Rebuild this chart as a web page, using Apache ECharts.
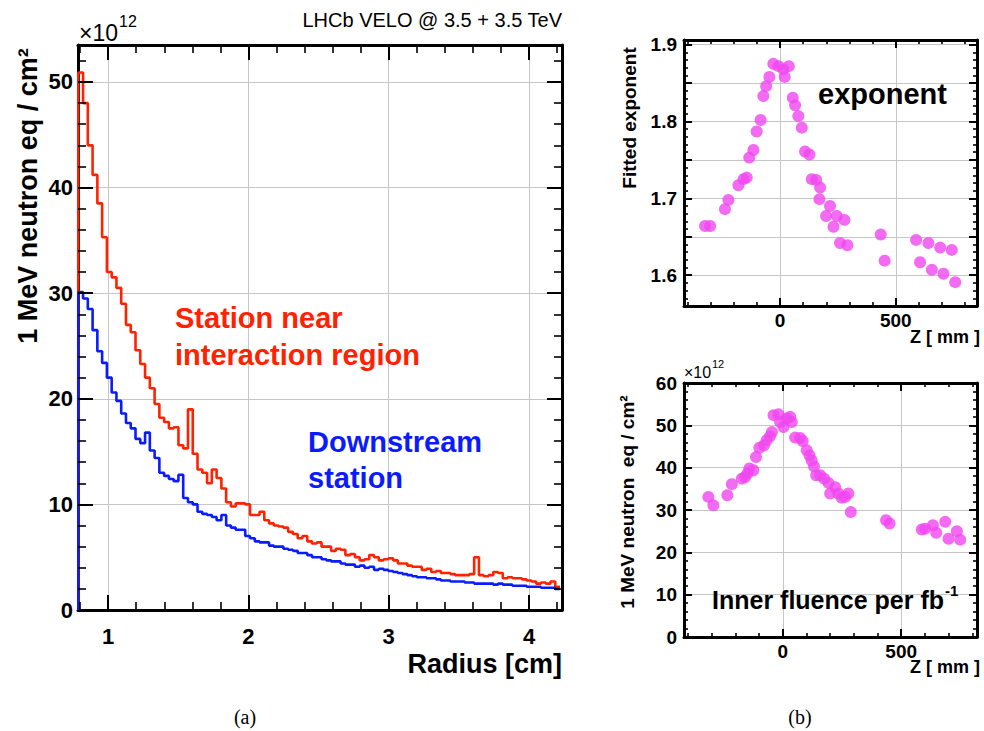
<!DOCTYPE html>
<html>
<head>
<meta charset="utf-8">
<script src="https://cdn.jsdelivr.net/npm/echarts@6/dist/echarts.min.js"></script>
<style>
html,body{margin:0;padding:0;background:#fff;}
#chart{width:984px;height:731px;}
</style>
</head>
<body>
<div id="chart"></div>
<script>
// ---------- DATA ----------
// (a) histograms: uniform radius bins
const radiusBinStart = 0.787;
const radiusBinWidth = 0.034;
const nearStationFluence = [
  50.9, 48, 44, 41.2, 38.5, 35.3, 32, 31.5, 30.5, 29,
  27, 26.3, 24.6, 23.3, 22, 21, 19.5, 18.2, 17.8, 17.2,
  17.3, 15.6, 15.3, 19, 14.8, 13.3, 13.0, 12.0, 13.3, 12.5,
  11.5, 10.2, 9.8, 10.1, 10.1, 10.0, 9.0, 9.0, 9.3, 8.5,
  8.2, 8.0, 7.9, 7.8, 7.4, 7.2, 6.8, 7.0, 6.5, 6.3,
  6.4, 6.0, 6.0, 5.6, 5.8, 5.7, 5.2, 5.3, 5.0, 4.7,
  4.8, 5.2, 5.0, 4.7, 4.8, 4.9, 4.7, 4.4, 4.4, 4.2,
  4.1, 4.1, 3.8, 3.9, 3.6, 3.7, 3.5, 3.5, 3.4, 3.3,
  3.3, 3.3, 3.4, 5.0, 3.3, 3.2, 3.3, 3.6, 3.5, 3.0,
  3.1, 3.0, 3.0, 2.9, 2.8, 2.7, 2.5, 2.6, 2.5, 2.7, 2.2
];
const downstreamFluence = [
  30.1, 29.5, 28.5, 26.5, 24.5, 23.4, 22, 20.6, 19.8, 18.6,
  17.7, 17.2, 16.2, 15.8, 16.8, 15.1, 14.4, 13, 12.7, 12.4,
  12.2, 12.8, 10.6, 10.2, 10.0, 9.3, 9.1, 9.0, 8.8, 8.5,
  9.0, 8.0, 7.8, 7.6, 7.6, 7.0, 6.8, 6.5, 6.4, 6.4,
  6.1, 6.0, 6.0, 5.8, 5.7, 5.6, 5.4, 5.4, 5.2, 5.0,
  5.0, 4.8, 4.7, 4.6, 4.6, 4.4, 4.3, 4.3, 4.1, 4.2,
  4.0, 4.1, 3.8, 3.9, 3.8, 3.7, 3.6, 3.5, 3.4, 3.3,
  3.2, 3.1, 3.1, 3.0, 3.0, 2.9, 2.8, 2.8, 2.7, 2.7,
  2.7, 2.6, 2.6, 2.5, 2.5, 2.5, 2.5, 2.4, 2.5, 2.4,
  2.4, 2.3, 2.3, 2.3, 2.2, 2.2, 2.2, 2.1, 2.1, 2.1, 2.0
];
// (b) top: fitted exponent vs Z
const zExponent = [-324, -302, -238, -223, -180, -158, -144, -133, -115, -101, -84, -72, -60, -46,
  -29, -7, 14, 20, 38, 55, 65, 79, 94, 108, 127, 137, 156, 173, 170, 216, 199, 245, 231, 278,
  259, 291, 435, 452, 588, 605, 641, 656, 692, 706, 742, 757];
const fittedExponent = [1.664, 1.664, 1.686, 1.698, 1.717, 1.725, 1.727, 1.753, 1.763, 1.787, 1.802,
  1.833, 1.846, 1.858, 1.875, 1.872, 1.868, 1.858, 1.872, 1.831, 1.821, 1.807, 1.792, 1.761, 1.757,
  1.725, 1.724, 1.714, 1.699, 1.690, 1.677, 1.677, 1.663, 1.672, 1.642, 1.639, 1.653, 1.619,
  1.646, 1.617, 1.642, 1.607, 1.636, 1.602, 1.633, 1.591];
// (b) bottom: inner fluence per fb^-1 vs Z (x10^12)
const zFluence = [-314, -293, -234, -215, -173, -159, -149, -141, -124, -113, -99, -79, -68, -54, -46,
  -39, -18, -11, 3, 17, 31, 38, 52, 73, 84, 101, 113, 122, 132, 141, 158, 175, 193, 200, 221,
  235, 249, 263, 277, 287, 436, 451, 587, 601, 634, 648, 686, 700, 735, 749];
const innerFluence = [33.1, 31.1, 33.5, 36.1, 37.4, 37.8, 38.6, 39.8, 39.4, 42.5, 44.7, 45.3, 46.5,
  47.4, 48.4, 52.4, 52.6, 50.8, 49.6, 51.6, 52.0, 50.8, 47.1, 47.0, 46.3, 44.1, 42.9, 41.7, 40.3,
  38.2, 38.2, 37.4, 36.4, 33.9, 35.4, 33.9, 32.9, 33.1, 33.9, 29.5, 27.6, 26.8, 25.4, 25.6, 26.4,
  24.6, 27.2, 23.2, 25.0, 23.0];

// tick labels, grid lines and tick marks
const radiusLabels = [1, 2, 3, 4];
const radiusMinor = [0.8, 1.2, 1.4, 1.6, 1.8, 2.2, 2.4, 2.6, 2.8, 3.2, 3.4, 3.6, 3.8, 4.2];
const fluenceLabelsA = [0, 10, 20, 30, 40, 50];
const fluenceMinorA = [2, 4, 6, 8, 12, 14, 16, 18, 22, 24, 26, 28, 32, 34, 36, 38, 42, 44, 46, 48, 52];
const zLabels = [0, 500];
const zMinor = [-400, -300, -200, -100, 100, 200, 300, 400, 600, 700, 800];
const expLabels = [1.6, 1.7, 1.8, 1.9];
const expGrid = [1.6, 1.65, 1.7, 1.75, 1.8, 1.85, 1.9];
const expMinor = [1.57, 1.58, 1.59, 1.61, 1.62, 1.63, 1.64, 1.66, 1.67, 1.68, 1.69,
  1.71, 1.72, 1.73, 1.74, 1.76, 1.77, 1.78, 1.79, 1.81, 1.82, 1.83, 1.84, 1.86, 1.87, 1.88, 1.89];
const fluenceLabelsB = [0, 10, 20, 30, 40, 50, 60];
const fluenceMinorB = [2, 4, 6, 8, 12, 14, 16, 18, 22, 24, 26, 28, 32, 34, 36, 38, 42, 44, 46, 48, 52, 54, 56, 58];

// ---------- BUILD ----------
const FONT = 'Liberation Sans';
// panel layouts (pixels) and axis extents
const panels = [
  { left: 78, top: 45, width: 484, height: 565, x: [0.785, 4.235], y: [0, 53.5] },
  { left: 684, top: 40, width: 293, height: 266, x: [-415, 851], y: [1.56, 1.906] },
  { left: 684, top: 383, width: 293, height: 254, x: [-417, 820], y: [0, 60] }
];

function histPoints(start, width, values) {
  const pts = [[start, 0]];
  values.forEach((v, i) => pts.push([start + i * width, v]));
  pts.push([start + values.length * width, values[values.length - 1]]);
  return pts;
}
function zip(xs, ys) { return xs.map((x, i) => [x, ys[i]]); }

const frameLine = { show: true, onZero: false, lineStyle: { color: '#000', width: 3 } };
function axisPair(isX, p, c) {
  const ext = isX ? p.x : p.y;
  const common = {
    gridIndex: p.idx, type: 'value', min: ext[0], max: ext[1], splitNumber: c.split, interval: c.interval,
    axisLine: frameLine, axisTick: { show: false }, minorTick: { show: false }, splitLine: { show: false }
  };
  return [
    Object.assign({}, common, { position: isX ? 'bottom' : 'left',
      axisLabel: { show: true, customValues: c.labels, margin: c.margin, fontSize: c.fs,
        fontWeight: 'bold', fontFamily: FONT, color: '#000', formatter: c.fmt } }),
    Object.assign({}, common, { position: isX ? 'top' : 'right', axisLabel: { show: false } })
  ];
}
panels.forEach((p, i) => { p.idx = i; });
const xAxes = [].concat(
  axisPair(true, panels[0], { split: 3, labels: radiusLabels, margin: 15, fs: 22, fmt: v => String(v) }),
  axisPair(true, panels[1], { split: 2, labels: zLabels, margin: 5, fs: 19, fmt: v => String(v) }),
  axisPair(true, panels[2], { split: 2, labels: zLabels, margin: 5, fs: 19, fmt: v => String(v) })
);
const yAxes = [].concat(
  axisPair(false, panels[0], { interval: 10, labels: fluenceLabelsA, margin: 5, fs: 22, fmt: v => String(v) }),
  axisPair(false, panels[1], { split: 7, labels: expLabels, margin: 7, fs: 19, fmt: v => v.toFixed(1) }),
  axisPair(false, panels[2], { interval: 10, labels: fluenceLabelsB, margin: 7, fs: 19, fmt: v => String(v) })
);

// grid lines beneath the data
function gridLines(axisIndex, xs, ys) {
  return {
    type: 'line', xAxisIndex: axisIndex, yAxisIndex: axisIndex, data: [], silent: true, z: -1,
    markLine: {
      silent: true, z: -1, animation: false, symbol: ['none', 'none'], label: { show: false },
      lineStyle: { color: '#c6c6c6', width: 1, type: 'solid' }, emphasis: { disabled: true },
      data: xs.map(v => ({ xAxis: v })).concat(ys.map(v => ({ yAxis: v })))
    }
  };
}
// inward ROOT-style tick marks on all four sides, as short marker segments
function tickMarks(axisIndex, p, xMajor, xMinor, yMajor, yMinor, majorLen, minorLen) {
  const dx = (p.x[1] - p.x[0]) / p.width, dy = (p.y[1] - p.y[0]) / p.height;
  const segs = [];
  const add = (vals, isX, len, w) => vals.forEach(v => {
    const ls = { color: '#000', width: w, type: 'solid' };
    if (isX) {
      segs.push([{ coord: [v, p.y[0]], lineStyle: ls }, { coord: [v, p.y[0] + len * dy] }]);
      segs.push([{ coord: [v, p.y[1]], lineStyle: ls }, { coord: [v, p.y[1] - len * dy] }]);
    } else {
      segs.push([{ coord: [p.x[0], v], lineStyle: ls }, { coord: [p.x[0] + len * dx, v] }]);
      segs.push([{ coord: [p.x[1], v], lineStyle: ls }, { coord: [p.x[1] - len * dx, v] }]);
    }
  });
  add(xMajor, true, majorLen, 2); add(xMinor, true, minorLen, 1.6);
  add(yMajor, false, majorLen, 2); add(yMinor, false, minorLen, 1.6);
  return {
    type: 'line', xAxisIndex: axisIndex, yAxisIndex: axisIndex, data: [], silent: true, z: 6,
    markLine: {
      silent: true, z: 6, animation: false, symbol: ['none', 'none'], label: { show: false },
      lineStyle: { color: '#000', width: 2, type: 'solid' }, emphasis: { disabled: true },
      data: segs
    }
  };
}

function txt(x, y, text, o) {
  return Object.assign({
    type: 'text', x: x, y: y, z: 10,
    style: Object.assign({ text: text, fill: '#000', fontFamily: FONT, fontSize: 20,
      fontWeight: 'bold', textAlign: 'left', textVerticalAlign: 'middle' }, o.style || {})
  }, o.el || {});
}
const graphics = [
  txt(562, 20, 'LHCb VELO @ 3.5 + 3.5 TeV', { style: { fontSize: 20, fontWeight: 'normal', textAlign: 'right' } }),
  txt(79, 33, '×10', { style: { fontSize: 23, fontWeight: 'normal' } }),
  txt(119, 21, '12', { style: { fontSize: 16, fontWeight: 'normal' } }),
  txt(28, 196, '1 MeV neutron eq / cm²', { style: { fontSize: 27, textAlign: 'center' }, el: { rotation: Math.PI / 2 } }),
  txt(562, 664, 'Radius [cm]', { style: { fontSize: 27, textAlign: 'right' } }),
  txt(175, 318, 'Station near', { style: { fontSize: 29, fill: '#ff2200' } }),
  txt(175, 355, 'interaction region', { style: { fontSize: 29, fill: '#ff2200' } }),
  txt(308, 442, 'Downstream', { style: { fontSize: 29, fill: '#0a1cff' } }),
  txt(308, 478, 'station', { style: { fontSize: 29, fill: '#0a1cff' } }),
  txt(629, 118, 'Fitted exponent', { style: { fontSize: 19, textAlign: 'center' }, el: { rotation: Math.PI / 2 } }),
  txt(818, 94, 'exponent', { style: { fontSize: 29 } }),
  txt(980, 337, 'Z [ mm ]', { style: { fontSize: 18, textAlign: 'right' } }),
  txt(684, 372, '×10', { style: { fontSize: 16, fontWeight: 'normal' } }),
  txt(712, 364, '12', { style: { fontSize: 11, fontWeight: 'normal' } }),
  txt(627, 502, '1 MeV neutron  eq / cm²', { style: { fontSize: 19, textAlign: 'center' }, el: { rotation: Math.PI / 2 } }),
  txt(712, 600, 'Inner fluence per fb', { style: { fontSize: 25 } }),
  txt(945, 590, '-1', { style: { fontSize: 15 } }),
  txt(980, 667, 'Z [ mm ]', { style: { fontSize: 18, textAlign: 'right' } }),
  txt(245, 717, '(a)', { style: { fontSize: 20, fontWeight: 'normal', fontFamily: 'Liberation Serif', textAlign: 'center' } }),
  txt(800, 717, '(b)', { style: { fontSize: 20, fontWeight: 'normal', fontFamily: 'Liberation Serif', textAlign: 'center' } })
];

const option = {
  animation: false,
  backgroundColor: '#fff',
  grid: panels.map(p => ({ left: p.left, top: p.top, width: p.width, height: p.height, outerBoundsMode: 'none' })),
  xAxis: xAxes,
  yAxis: yAxes,
  series: [
    gridLines(0, radiusLabels, fluenceLabelsA),
    gridLines(2, zLabels, expGrid),
    gridLines(4, zLabels, fluenceLabelsB),
    { type: 'line', xAxisIndex: 0, yAxisIndex: 0, step: 'end', symbol: 'none',
      data: histPoints(radiusBinStart, radiusBinWidth, nearStationFluence),
      lineStyle: { color: '#ff2200', width: 2.6 }, z: 4 },
    { type: 'line', xAxisIndex: 0, yAxisIndex: 0, step: 'end', symbol: 'none',
      data: histPoints(radiusBinStart, radiusBinWidth, downstreamFluence),
      lineStyle: { color: '#0a1cff', width: 2.6 }, z: 5 },
    { type: 'scatter', xAxisIndex: 2, yAxisIndex: 2, symbol: 'circle', symbolSize: 12,
      itemStyle: { color: '#f046f0' }, data: zip(zExponent, fittedExponent), z: 4 },
    { type: 'scatter', xAxisIndex: 4, yAxisIndex: 4, symbol: 'circle', symbolSize: 12,
      itemStyle: { color: '#f046f0' }, data: zip(zFluence, innerFluence), z: 4 },
    tickMarks(0, panels[0], radiusLabels, radiusMinor, fluenceLabelsA.slice(1), fluenceMinorA, 15, 8),
    tickMarks(2, panels[1], zLabels, zMinor, expGrid, expMinor, 8, 4),
    tickMarks(4, panels[2], zLabels, zMinor, fluenceLabelsB.slice(1, 6), fluenceMinorB, 8, 4)
  ],
  graphic: graphics
};

const chart = echarts.init(document.getElementById('chart'), null, { renderer: 'svg' });
chart.setOption(option);
</script>
</body>
</html>
